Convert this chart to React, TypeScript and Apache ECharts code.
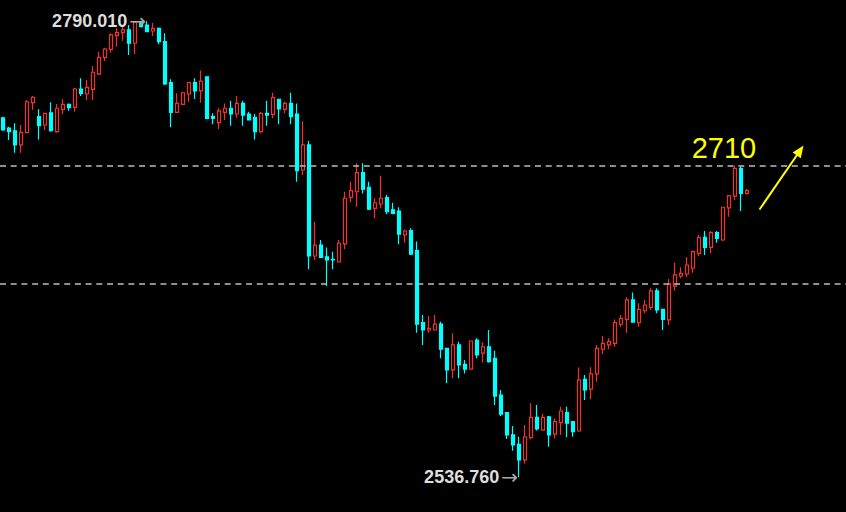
import React, { useEffect, useRef } from "react";
import * as echarts from "echarts";

const open = [
  2736.4, 2730.6, 2729.2, 2721.3, 2728.1, 2744.8, 2737.0, 2732.4, 2739.2, 2728.7,
  2741.1, 2743.9, 2742.2, 2752.4, 2749.6, 2752.2, 2760.6, 2769.8, 2774.4, 2782.0,
  2783.7, 2785.2, 2777.8, 2789.2, 2787.9, 2784.6, 2786.1, 2778.7, 2755.9, 2739.4,
  2743.9, 2749.6, 2755.9, 2751.3, 2759.2, 2737.0, 2733.7, 2739.4, 2741.7, 2738.5,
  2744.4, 2738.5, 2736.7, 2728.7, 2738.9, 2738.3, 2746.7, 2741.1, 2744.4, 2738.5,
  2707.4, 2721.3, 2659.6, 2665.7, 2659.2, 2657.8, 2656.4, 2666.3, 2692.2, 2695.3,
  2705.9, 2697.8, 2686.1, 2688.5, 2692.0, 2685.2, 2684.6, 2671.3, 2673.7, 2662.6,
  2622.6, 2618.5, 2618.5, 2621.8, 2608.3, 2596.3, 2610.2, 2599.4, 2596.8, 2612.9,
  2605.6, 2609.2, 2602.8, 2582.4, 2572.6, 2560.2, 2555.0, 2546.3, 2558.7, 2570.0,
  2562.9, 2570.3, 2560.6, 2567.0, 2572.6, 2567.6, 2562.4, 2591.1, 2585.6, 2594.1,
  2607.8, 2610.2, 2611.1, 2621.7, 2624.4, 2635.2, 2622.6, 2629.2, 2631.1, 2640.2,
  2630.0, 2624.1, 2642.9, 2648.5, 2649.6, 2652.8, 2661.1, 2670.0, 2664.4, 2672.6,
  2668.5, 2686.4, 2692.9, 2708.3, 2694.4,
];

const close = [
  2729.6, 2728.7, 2721.3, 2728.3, 2745.3, 2747.8, 2732.0, 2738.9, 2729.2, 2741.7,
  2743.9, 2742.0, 2752.4, 2750.0, 2753.3, 2761.7, 2770.0, 2774.6, 2782.4, 2783.7,
  2785.2, 2777.8, 2789.4, 2787.0, 2784.2, 2786.1, 2778.7, 2755.2, 2739.4, 2744.4,
  2750.3, 2755.9, 2751.3, 2756.8, 2736.1, 2736.1, 2740.2, 2741.7, 2738.5, 2744.4,
  2737.9, 2735.2, 2728.7, 2738.9, 2737.9, 2747.6, 2741.3, 2744.4, 2737.0, 2707.0,
  2721.3, 2659.6, 2665.7, 2658.9, 2657.4, 2657.4, 2666.7, 2691.7, 2695.9, 2705.9,
  2696.7, 2685.7, 2689.2, 2691.7, 2684.2, 2683.3, 2671.8, 2673.5, 2660.7, 2621.8,
  2618.5, 2619.4, 2621.8, 2607.8, 2596.3, 2610.2, 2599.1, 2596.8, 2612.4, 2604.6,
  2609.2, 2600.9, 2581.8, 2571.8, 2560.2, 2554.6, 2546.3, 2559.2, 2570.0, 2563.5,
  2570.0, 2560.2, 2567.6, 2573.5, 2566.7, 2562.0, 2590.7, 2585.2, 2594.1, 2608.3,
  2611.1, 2612.0, 2622.6, 2625.0, 2635.2, 2622.8, 2630.0, 2632.4, 2640.2, 2629.6,
  2624.4, 2644.1, 2649.1, 2650.0, 2654.6, 2662.0, 2670.0, 2664.4, 2672.6, 2669.4,
  2686.7, 2693.1, 2708.3, 2694.4, 2695.9,
];

const low = [
  2729.2, 2724.1, 2717.0, 2717.0, 2727.8, 2740.7, 2724.4, 2729.6, 2728.7, 2728.1,
  2738.5, 2740.3, 2739.8, 2748.5, 2746.3, 2746.3, 2760.2, 2767.9, 2772.6, 2775.9,
  2779.2, 2771.3, 2771.8, 2786.8, 2784.0, 2781.8, 2777.2, 2754.6, 2731.1, 2739.2,
  2743.5, 2745.3, 2746.8, 2744.8, 2735.6, 2732.8, 2730.2, 2735.2, 2732.0, 2736.4,
  2732.0, 2735.0, 2724.4, 2727.8, 2732.0, 2736.1, 2732.8, 2738.9, 2732.8, 2700.9,
  2704.6, 2652.2, 2657.4, 2658.7, 2642.9, 2652.2, 2656.1, 2663.5, 2689.4, 2687.0,
  2694.4, 2685.2, 2680.6, 2686.1, 2682.8, 2682.8, 2666.1, 2667.0, 2660.2, 2617.0,
  2610.2, 2617.0, 2618.3, 2602.8, 2588.9, 2591.7, 2591.7, 2594.4, 2596.6, 2602.8,
  2600.6, 2600.3, 2576.8, 2570.7, 2557.9, 2551.4, 2536.76, 2544.4, 2557.8, 2562.6,
  2562.6, 2553.7, 2558.3, 2560.2, 2558.9, 2559.2, 2562.0, 2579.6, 2580.0, 2589.8,
  2605.2, 2607.8, 2609.2, 2620.3, 2617.0, 2622.6, 2620.3, 2627.8, 2629.6, 2627.8,
  2618.5, 2621.3, 2640.3, 2647.2, 2647.9, 2650.3, 2659.6, 2660.2, 2661.1, 2667.0,
  2667.9, 2681.4, 2690.7, 2684.6, 2693.8,
];

const high = [
  2737.0, 2731.4, 2733.3, 2732.4, 2746.3, 2748.5, 2741.1, 2739.2, 2745.0, 2744.1,
  2746.7, 2744.4, 2753.1, 2758.3, 2757.4, 2765.2, 2773.1, 2775.3, 2783.3, 2786.1,
  2787.9, 2787.9, 2789.6, 2789.8, 2790.01, 2789.0, 2786.5, 2783.3, 2757.8, 2750.0,
  2750.9, 2756.4, 2758.3, 2762.6, 2759.5, 2738.9, 2741.7, 2744.4, 2745.9, 2748.5,
  2745.9, 2739.8, 2738.5, 2739.8, 2745.9, 2750.3, 2746.9, 2745.3, 2750.3, 2744.4,
  2734.6, 2723.5, 2678.7, 2668.5, 2664.4, 2662.0, 2668.5, 2695.3, 2700.9, 2711.1,
  2711.1, 2700.9, 2691.7, 2704.2, 2693.5, 2689.2, 2686.7, 2674.4, 2675.0, 2667.6,
  2626.8, 2626.3, 2626.8, 2623.1, 2608.5, 2616.7, 2612.0, 2601.8, 2612.6, 2613.9,
  2611.7, 2618.5, 2607.0, 2585.2, 2572.8, 2565.2, 2559.2, 2565.7, 2577.8, 2576.8,
  2571.8, 2570.7, 2569.4, 2575.9, 2575.9, 2567.8, 2597.6, 2593.5, 2597.8, 2610.2,
  2615.2, 2613.9, 2624.4, 2626.8, 2636.7, 2639.4, 2633.3, 2635.2, 2641.7, 2641.7,
  2630.2, 2646.8, 2655.9, 2653.3, 2659.1, 2662.6, 2671.3, 2673.5, 2673.5, 2673.5,
  2687.0, 2693.5, 2709.6, 2709.2, 2696.8,
];

// horizontal dashed levels
const levels = [2710, 2644];
// extreme labels
const highMark = { index: 24, value: 2790.01, text: "2790.010" };
const lowMark = { index: 86, value: 2536.76, text: "2536.760" };
const targetText = "2710";
// total category slots (empty space on the right)
const slotCount = 141;
const categories = Array.from({ length: slotCount }, (_, i) => `${i + 1}`);

const YMIN = 2517.39;
const YMAX = 2801.83;

export default function App() {
  const ref = useRef<HTMLDivElement>(null);

  useEffect(() => {
    const chart = echarts.init(ref.current!, null, { renderer: "svg" });
    const data = open.map((o, i) => [o, close[i], low[i], high[i]]);
    const rich = {
      t: {
        color: "#dedede",
        fontWeight: "bold",
        fontSize: 18,
        fontFamily: '"Liberation Sans", Arial, sans-serif',
      },
      a: {
        color: "#a8a8a8",
        fontSize: 20,
        fontFamily: '"DejaVu Sans", sans-serif',
        padding: [0, 0, 1, 2],
      },
    };
    chart.setOption({
      animation: false,
      backgroundColor: "#000000",
      grid: { left: 0, right: 0, top: 0, bottom: 0 },
      xAxis: {
        type: "category",
        data: categories,
        show: false,
        boundaryGap: true,
      },
      yAxis: {
        type: "value",
        show: false,
        min: YMIN,
        max: YMAX,
        splitLine: { show: false },
      },
      series: [
        {
          type: "candlestick",
          data,
          barWidth: 4.4,
          itemStyle: {
            color: "#000000",
            color0: "#00ffff",
            borderColor: "#f0322d",
            borderColor0: "#00ffff",
            borderWidth: 1.2,
          },
          markLine: {
            silent: true,
            symbol: "none",
            label: { show: false },
            lineStyle: { color: "#bdbdbd", type: [6, 4.7], width: 1.6 },
            data: levels.map((v) => ({ yAxis: v })),
          },
          markPoint: {
            silent: true,
            symbol: "circle",
            symbolSize: 0.1,
            itemStyle: { color: "transparent" },
            label: {
              show: true,
              position: "left",
              distance: 1,
              rich,
            },
            data: [
              {
                coord: [categories[highMark.index], highMark.value],
                label: { formatter: `{t|${highMark.text}}{a|→}` },
              },
              {
                coord: [categories[lowMark.index], lowMark.value],
                label: { formatter: `{t|${lowMark.text}}{a|→}` },
              },
            ],
          },
        },
      ],
      graphic: [
        {
          type: "text",
          style: {
            x: 724,
            y: 148,
            text: targetText,
            align: "center",
            verticalAlign: "middle",
            fill: "#ffff00",
            font: 'normal 29px "Liberation Sans", Arial, sans-serif',
          },
        },
        {
          type: "line",
          shape: { x1: 759.5, y1: 209.5, x2: 797, y2: 155 },
          style: { stroke: "#ffff00", lineWidth: 2 },
        },
        {
          type: "polygon",
          shape: {
            points: [
              [803.5, 145.5],
              [792.6, 152.6],
              [800.8, 158.2],
            ],
          },
          style: { fill: "#ffff00" },
        },
      ],
    });
    return () => chart.dispose();
  }, []);

  return (
    <div
      ref={ref}
      style={{
        position: "fixed",
        left: 0,
        top: 0,
        width: 846,
        height: 512,
        background: "#000",
      }}
    />
  );
}
